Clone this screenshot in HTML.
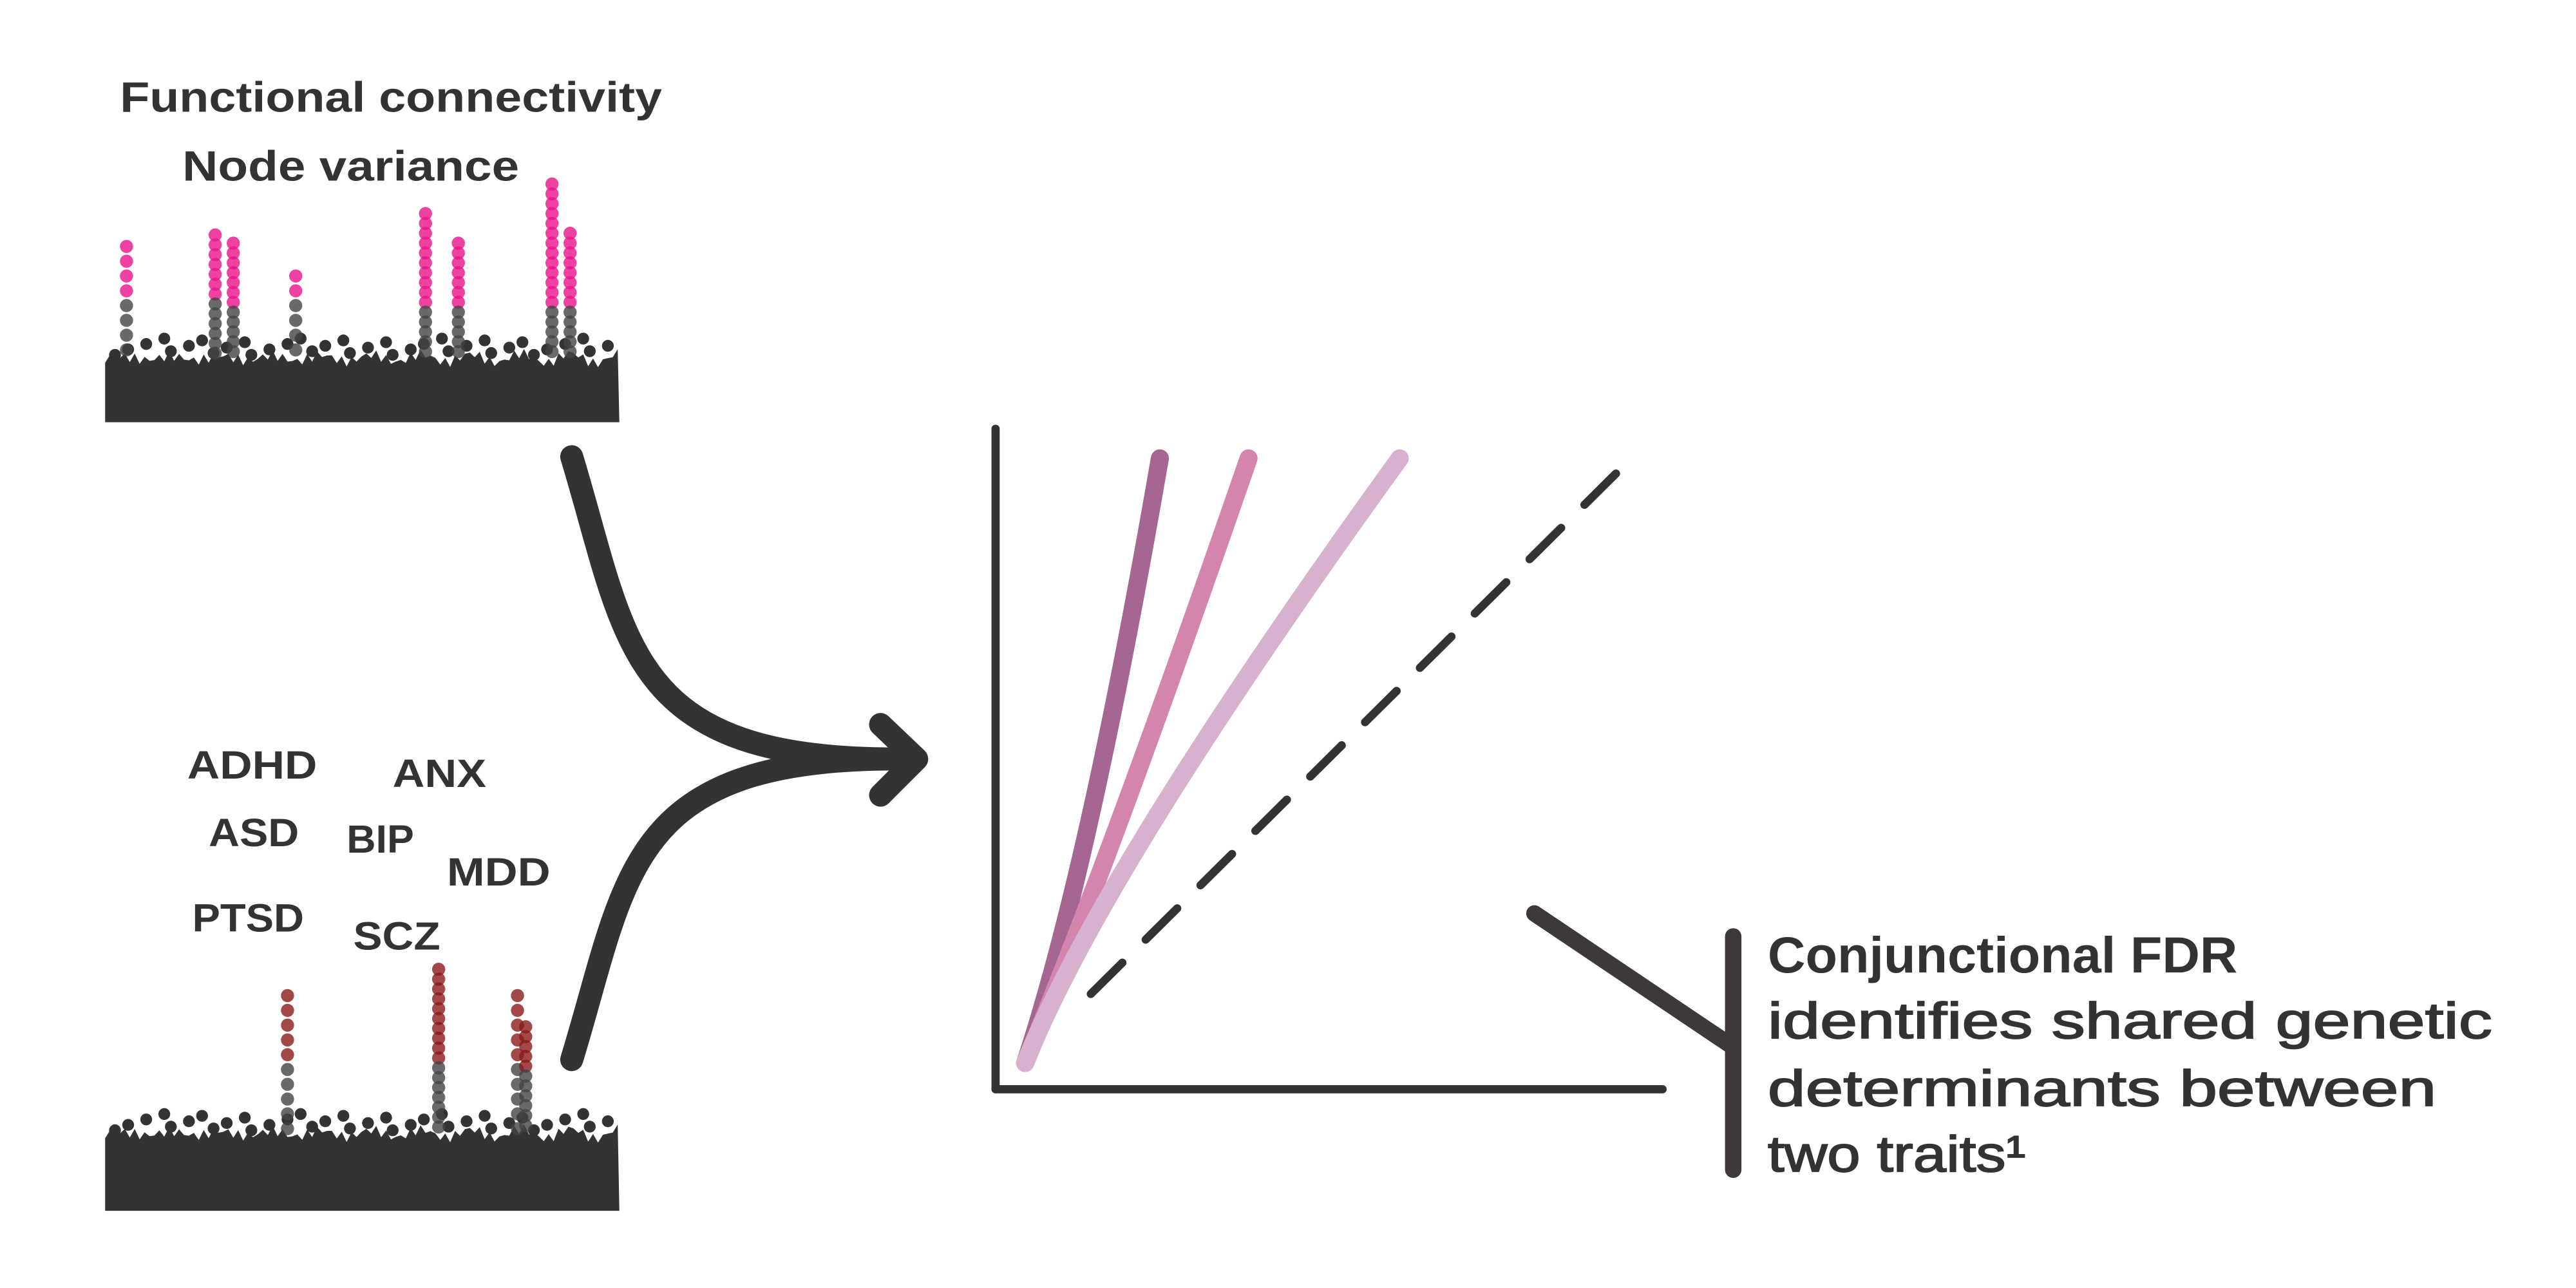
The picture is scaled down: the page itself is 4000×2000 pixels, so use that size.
<!DOCTYPE html>
<html><head><meta charset="utf-8"><style>
html,body{margin:0;padding:0;background:#fff;width:4000px;height:2000px;overflow:hidden}
svg{display:block}
text{font-family:"Liberation Sans",sans-serif;fill:#333;font-weight:bold}
.med{font-weight:normal;stroke:#333;stroke-width:0.7}
</style></head><body>
<svg id="fig" width="4000" height="2000" viewBox="0 0 1568 784" xmlns="http://www.w3.org/2000/svg">
<g>
<text x="73" y="68" font-size="26" textLength="330" lengthAdjust="spacingAndGlyphs">Functional connectivity</text>
<text x="111" y="110" font-size="26" textLength="205" lengthAdjust="spacingAndGlyphs">Node variance</text>
</g>
<g id="topM"></g>
<g id="botM"></g>
<g>
<text x="114" y="474" font-size="24" textLength="79" lengthAdjust="spacingAndGlyphs">ADHD</text>
<text x="239" y="479" font-size="24" textLength="57" lengthAdjust="spacingAndGlyphs">ANX</text>
<text x="127" y="515" font-size="24" textLength="55" lengthAdjust="spacingAndGlyphs">ASD</text>
<text x="211" y="519" font-size="24" textLength="41" lengthAdjust="spacingAndGlyphs">BIP</text>
<text x="272" y="539" font-size="24" textLength="63" lengthAdjust="spacingAndGlyphs">MDD</text>
<text x="117" y="567" font-size="24" textLength="68" lengthAdjust="spacingAndGlyphs">PTSD</text>
<text x="215" y="578" font-size="24" textLength="53" lengthAdjust="spacingAndGlyphs">SCZ</text>
</g>
<g fill="none" stroke="#333" stroke-width="14" stroke-linecap="round" stroke-linejoin="round">
<path d="M348,278 C382,390 380,462 545,462"/>
<path d="M348,645 C382,534 380,462 545,462"/>
<path d="M536,441 L558,462 L536,484"/>
</g>
<g id="chart">
<line x1="606" y1="261" x2="606" y2="663" stroke="#333" stroke-width="5" stroke-linecap="round"/>
<line x1="606" y1="663" x2="1012" y2="663" stroke="#333" stroke-width="5" stroke-linecap="round"/>
</g>
<g stroke="#3e3839" stroke-width="10" stroke-linecap="round">
<line x1="934" y1="556" x2="1053" y2="636"/>
<line x1="1055" y1="570" x2="1055" y2="712"/>
</g>
<g>
<text x="1076" y="592" font-size="31" textLength="286" lengthAdjust="spacingAndGlyphs">Conjunctional FDR</text>
<text class="med" x="1076" y="632" font-size="31" textLength="441" lengthAdjust="spacingAndGlyphs">identifies shared genetic</text>
<text class="med" x="1076" y="673" font-size="31" textLength="407" lengthAdjust="spacingAndGlyphs">determinants between</text>
<text class="med" x="1076" y="713" font-size="31" textLength="157" lengthAdjust="spacingAndGlyphs">two traits¹</text>
</g>
</svg>
<script>
// Manhattan peak data
const topPeakX = [77,131,142,180,259,279,336,347];
const topPeakTop = [150,143,148,168,130,148,112,142];
const botPeakX = [175,267,315,320];
const botPeakTop = [606,590,606,625];
// QQ curves
const curveEndX = [706,760,852];
const curveBend = [0.4,0.32,0.18];
const curveColors = ["#a56792","#d485ad","#d7b2cf"];
const NS = "http://www.w3.org/2000/svg";
function mk(tag, attrs, parent){const e=document.createElementNS(NS,tag);for(const k in attrs)e.setAttribute(k,attrs[k]);parent.appendChild(e);return e;}

function manhattan(g, x0, x1, base, blobTop, peaksX, peaksTop, sigY, hiColor, nm){
  let d = `M${x0},${base} L${x0},${blobTop+8}`;
  for(let x=x0;x<=x1;x+=3){const y=blobTop+3*Math.sin(x*0.9)+2.5*Math.sin(x*2.3+1)+2*Math.sin(x*0.21); d+=` L${x},${y.toFixed(1)}`;}
  d += ` L${x1},${base} Z`;
  const body = mk('path',{d:d,fill:'#333'},g);
  
  
  for(let x=x0+4;x<x1;x+=5){const h=((x*53)%17); if(h>9) continue; const y=blobTop-2-h*1.1;const c=mk('circle',{cx:x+(x*7)%3,cy:y,r:3.6,fill:'#333'},g);
    
    }
  peaksX.forEach((px,i)=>{
    for(let y=peaksTop[i]; y<blobTop; y+=((y*13)%3===0?9:6)){
      const c=mk('circle',{cx:px,cy:y,r:4,fill:y<sigY?hiColor:'#444','fill-opacity':0.8},g);
      
      
    }
  });
}
manhattan(document.getElementById('topM'),64,377,257,218,topPeakX,topPeakTop,185,'#e8138a','top-manhattan');
manhattan(document.getElementById('botM'),64,377,737,690,botPeakX,botPeakTop,650,'#8b1a1a','bottom-manhattan');

const chart=document.getElementById('chart');
const ox=624, oy=647, topY=279;
const dash=mk('line',{x1:ox+40,y1:oy-42,x2:996,y2:276,stroke:'#333','stroke-width':5,'stroke-dasharray':'27 20','stroke-linecap':'round'},chart);


curveEndX.forEach((ex,i)=>{
  const cx = ox + (ex-ox)*curveBend[i] + 6, cy = oy - (oy-topY)*0.32;
  const p=mk('path',{d:`M${ox},${oy} Q${cx},${cy} ${ex},${topY}`,fill:'none',stroke:curveColors[i],'stroke-width':11,'stroke-linecap':'round'},chart);
  
  
});
</script>
</body></html>
